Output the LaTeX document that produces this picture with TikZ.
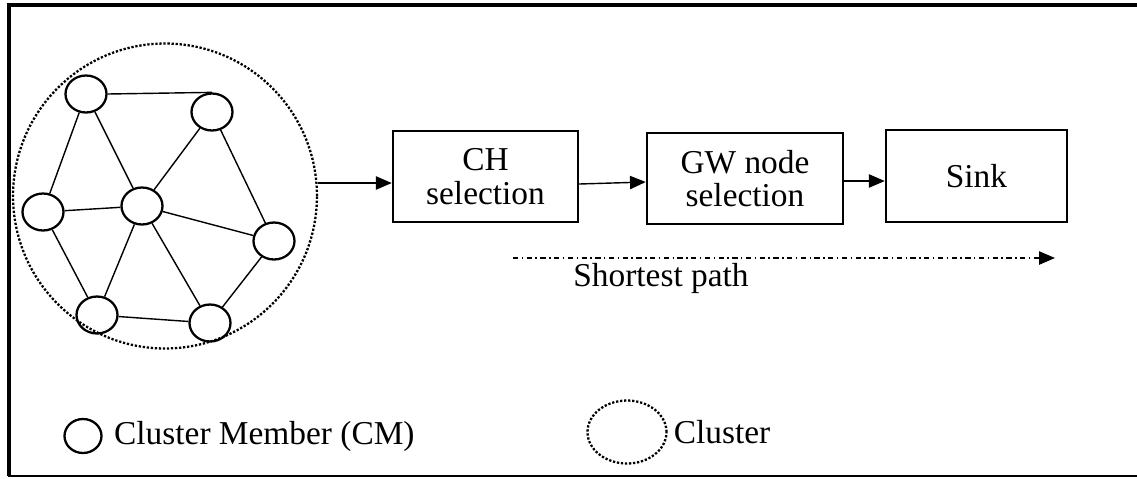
\documentclass[tikz,border=0pt]{standalone}
\usepackage{fontspec}
\setmainfont{Liberation Serif}
\usetikzlibrary{arrows.meta,shapes.geometric,positioning}
\tikzset{
  member/.style={draw, line width=1.3pt, ellipse, minimum width=0.82cm, minimum height=0.74cm, inner sep=0pt},
  procbox/.style={draw, line width=1.4pt, minimum width=3.7cm, minimum height=1.82cm, inner sep=0pt, align=center, font=\fontsize{19}{19}\selectfont},
  clusterring/.style={draw, densely dotted, line width=1.3pt, ellipse},
  link/.style={line width=0.8pt},
  flow/.style={-{Triangle[length=9pt,width=7.5pt]}, line width=0.8pt}
}
\begin{document}
\begin{tikzpicture}[x=0.02cm, y=-0.02cm]
\useasboundingbox (0,0) rectangle (1137,478);
% Frame (right side falls outside the picture)
\draw[line width=2pt] (1145,5) -- (9,5) -- (9,476);
\draw[line width=1.3pt] (8,476) -- (1145,476);

% Cluster
\node[clusterring, minimum width=6.08cm, minimum height=6.1cm] (clus) at (165,196) {};

% Cluster members
\node[member] (m1) at (86,94) {};
\node[member] (m2) at (212,112) {};
\node[member] (m3) at (43,212) {};
\node[member] (m4) at (142,206) {};
\node[member] (m5) at (274,241) {};
\node[member] (m6) at (97,315) {};
\node[member] (m7) at (210,323) {};

% Links
\draw[link] (m1.east) -- (m2.north);
\draw[link] (m1) -- (m3);
\draw[link] (m1) -- (m4);
\draw[link] (m2) -- (m4);
\draw[link] (m2) -- (m5);
\draw[link] (m3) -- (m4);
\draw[link] (m3) -- (m6);
\draw[link] (m4) -- (m5);
\draw[link] (m4) -- (m6);
\draw[link] (m4) -- (m7);
\draw[link] (m6) -- (m7);
\draw[link] (m5) -- (m7);

% Process boxes
\node[procbox] (ch) at (485.5,176.5) {CH\\selection};
\node[procbox, minimum width=3.92cm] (gw) at (745,178.5) {GW node\\selection};
\node[procbox, minimum width=3.62cm, minimum height=1.84cm] (sink) at (976.5,176) {Sink};

\draw[flow] (clus.east |- 0,183) -- (ch.west |- 0,183);
\draw[flow] (ch.east |- 0,184) -- (gw.west |- 0,182);
\draw[flow] (gw.east |- 0,181) -- (sink.west |- 0,181);

% Shortest path
\coordinate (sp1) at (513,258);
\coordinate (sp2) at (1055,258);
\draw[flow, dash dot] (sp1) -- (sp2);
\node[font=\fontsize{19}{21}\selectfont] (splab) at (661,278) {Shortest path};

% Legend
\node[member, minimum width=0.74cm, minimum height=0.68cm] (lcm) at (83,436) {};
\node[right=0.5cm of lcm.center, anchor=west, font=\fontsize{19}{21}\selectfont] (lcmtxt) {Cluster Member (CM)};
\node[clusterring, minimum width=1.58cm, minimum height=1.26cm] (lcl) at (627,432) {};
\node[right=0pt of lcl, font=\fontsize{19}{21}\selectfont] (lcltxt) {Cluster};
\end{tikzpicture}
\end{document}
